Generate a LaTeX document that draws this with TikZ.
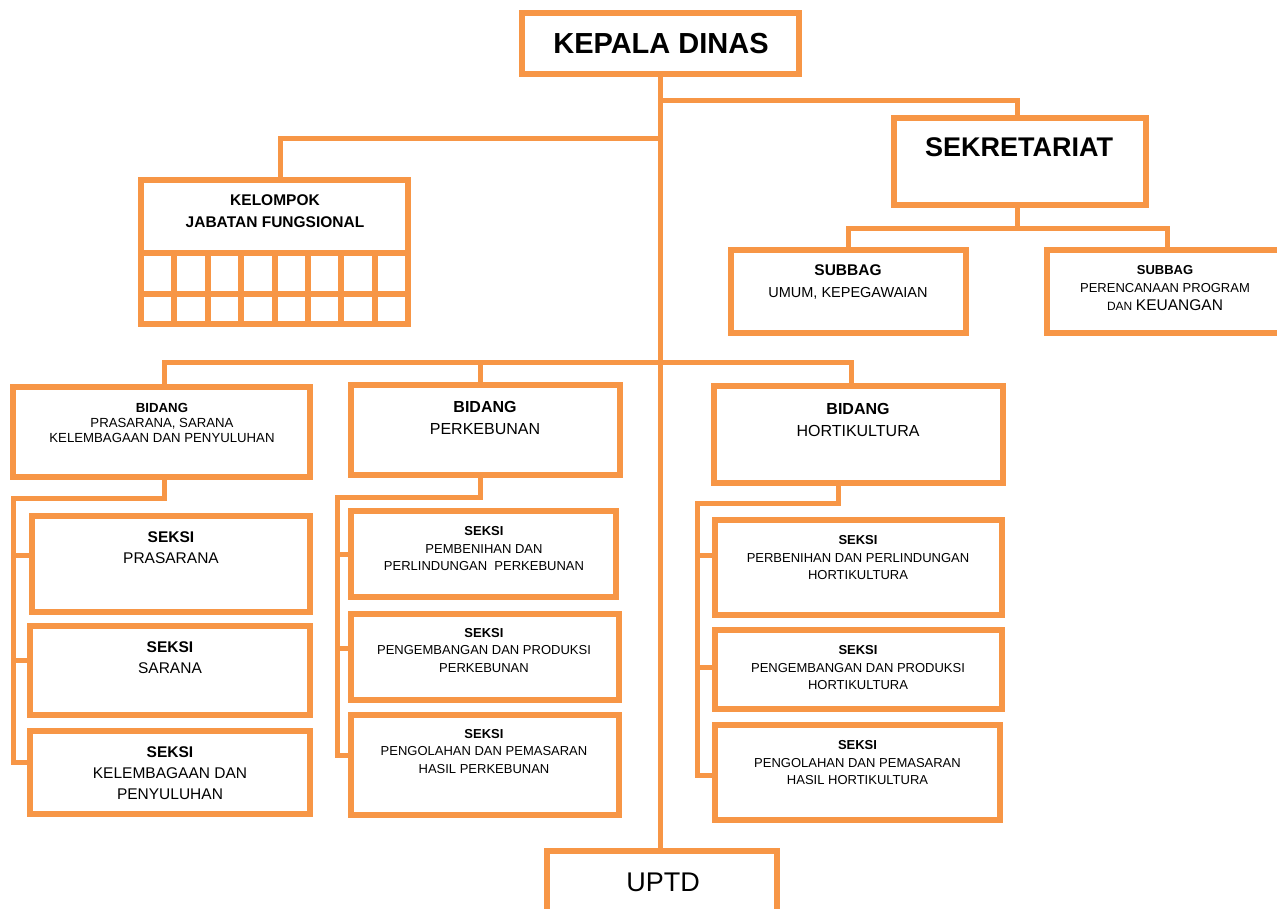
\documentclass[tikz,border=0pt]{standalone}
\usepackage{fontspec}
\setmainfont{Liberation Sans}
\usetikzlibrary{fit}
\definecolor{org}{HTML}{F79646}
\begin{document}
\begin{tikzpicture}[x=1pt,y=-1pt,
  box/.style={draw=org,line width=6pt,inner sep=0pt},
  conn/.style={draw=org,line width=5pt},
  gridline/.style={draw=org,line width=6pt},
  txt/.style={align=center,inner sep=0pt,text=black},
  big/.style={font=\fontsize{16}{22}\selectfont},
  mid/.style={font=\fontsize{15.5}{21}\selectfont},
  small/.style={font=\fontsize{13}{17.5}\selectfont}]
\useasboundingbox (0,0) rectangle (1277,908);
% boxes
\node[box,fit={(522,13) (799,74)}] (kd) {};
\node[box,fit={(894,118) (1146,205)}] (sek) {};
\node[box,fit={(731,250) (966,333)}] (sub1) {};
\node[box,fit={(1047,250) (1281,333)}] (sub2) {};
\node[box,fit={(141,180) (408,324)}] (kjf) {};
\node[box,fit={(13,387) (310,477)}] (b1) {};
\node[box,fit={(351,385) (620,475)}] (b2) {};
\node[box,fit={(714,386) (1003,483)}] (b3) {};
\node[box,fit={(32,516) (310,612)}] (s11) {};
\node[box,fit={(30,626) (310,715)}] (s12) {};
\node[box,fit={(30,731) (310,814)}] (s13) {};
\node[box,fit={(351,511) (616,597)}] (s21) {};
\node[box,fit={(351,614) (619,700)}] (s22) {};
\node[box,fit={(351,715) (619,815)}] (s23) {};
\node[box,fit={(715,520) (1002,615)}] (s31) {};
\node[box,fit={(715,630) (1002,709)}] (s32) {};
\node[box,fit={(715,725) (1000,820)}] (s33) {};
\node[box,fit={(547,851) (777,914)}] (uptd) {};
% grid of kelompok
\foreach \y in {253,294} \draw[gridline] (141,\y) -- (408,\y);
\foreach \i in {1,...,7} \draw[gridline] ({141+\i*33.375},253) -- ({141+\i*33.375},324);
% helper coordinates
\coordinate (j1) at (661,100);
\coordinate (j2) at (661,138);
\coordinate (bus) at (661,362);
\coordinate (j3) at (1017,228);
\coordinate (c1) at (13,498);
\coordinate (c2) at (337,497);
\coordinate (c3) at (697,503);
\path ([xshift=-3]sek.north) coordinate (sekn)
      ([xshift=-3]sek.south) coordinate (seks)
      ([xshift=3.5]sub2.north) coordinate (sub2n)
      ([xshift=5.5]kjf.north) coordinate (kjfn)
      ([xshift=3]b1.north) coordinate (b1n)
      ([xshift=-5.5]b2.north) coordinate (b2n)
      ([xshift=-7.5]b3.north) coordinate (b3n)
      ([xshift=3]b1.south) coordinate (b1s)
      ([xshift=-5.5]b2.south) coordinate (b2s)
      ([xshift=-20]b3.south) coordinate (b3s)
      ([yshift=9]s11.west) coordinate (t11)
      ([yshift=10]s12.west) coordinate (t12)
      ([yshift=10]s13.west) coordinate (t13)
      (s21.west) coordinate (t21)
      ([yshift=9]s22.west) coordinate (t22)
      ([yshift=10]s23.west) coordinate (t23)
      ([yshift=12]s31.west) coordinate (t31)
      ([yshift=2]s32.west) coordinate (t32)
      ([yshift=-3]s33.west) coordinate (t33);
% connectors
\draw[conn] (kd.south) -- (kd.south |- uptd.north);
\draw[conn] (j1) -| (sekn);
\draw[conn] (j2) -| (kjfn);
\draw[conn] (seks) -- (seks |- j3);
\draw[conn] (sub1.north) |- (j3) -| (sub2n);
\draw[conn] (b1n) |- (bus) -| (b3n);
\draw[conn] (b2n) -- (b2n |- bus);
\draw[conn] (b1s) |- (c1) |- (t13);
\draw[conn] (c1 |- t11) -- (t11);
\draw[conn] (c1 |- t12) -- (t12);
\draw[conn] (b2s) |- (c2) |- (t23);
\draw[conn] (c2 |- t21) -- (t21);
\draw[conn] (c2 |- t22) -- (t22);
\draw[conn] (b3s) |- (c3) |- (t33);
\draw[conn] (c3 |- t31) -- (t31);
\draw[conn] (c3 |- t32) -- (t32);
% texts
\node[txt,font=\bfseries\fontsize{29}{33}\selectfont] (tkd) at (661,44) {KEPALA DINAS};
\node[txt,font=\bfseries\fontsize{27}{30}\selectfont] (tsek) at (1019,147) {SEKRETARIAT};
\node[txt,font=\bfseries\fontsize{15.5}{22}\selectfont] (tkjf) at (275,211) {KELOMPOK\\JABATAN FUNGSIONAL};
\node[txt,font=\fontsize{14.5}{21.5}\selectfont] (tsub1) at (848,282) {{\bfseries\fontsize{15.5}{21.5}\selectfont SUBBAG}\\UMUM, KEPEGAWAIAN};
\node[txt,font=\fontsize{13}{18}\selectfont] (tsub2) at (1165,288) {{\bfseries SUBBAG}\\PERENCANAAN PROGRAM\\{\fontsize{12}{18}\selectfont DAN} {\fontsize{15.5}{18}\selectfont KEUANGAN}};
\node[txt,font=\fontsize{13.2}{15}\selectfont] (tb1) at (162,423) {{\bfseries BIDANG}\\PRASARANA, SARANA\\KELEMBAGAAN DAN PENYULUHAN};
\node[txt,big] (tb2) at (485,418) {{\bfseries BIDANG}\\PERKEBUNAN};
\node[txt,big] (tb3) at (858,420) {{\bfseries BIDANG}\\HORTIKULTURA};
\node[txt,mid] (ts11) at (171,548) {{\bfseries SEKSI}\\PRASARANA};
\node[txt,mid] (ts12) at (170,658) {{\bfseries SEKSI}\\SARANA};
\node[txt,mid] (ts13) at (170,773) {{\bfseries SEKSI}\\KELEMBAGAAN DAN\\PENYULUHAN};
\node[txt,small] (ts21) at (484,549) {{\bfseries SEKSI}\\PEMBENIHAN DAN\\PERLINDUNGAN\ \ PERKEBUNAN};
\node[txt,small] (ts22) at (484,650.5) {{\bfseries SEKSI}\\PENGEMBANGAN DAN PRODUKSI\\PERKEBUNAN};
\node[txt,small] (ts23) at (484,751.5) {{\bfseries SEKSI}\\PENGOLAHAN DAN PEMASARAN\\HASIL PERKEBUNAN};
\node[txt,small] (ts31) at (858,558) {{\bfseries SEKSI}\\PERBENIHAN DAN PERLINDUNGAN\\HORTIKULTURA};
\node[txt,small] (ts32) at (858,668) {{\bfseries SEKSI}\\PENGEMBANGAN DAN PRODUKSI\\HORTIKULTURA};
\node[txt,small] (ts33) at (857.5,763) {{\bfseries SEKSI}\\PENGOLAHAN DAN PEMASARAN\\HASIL HORTIKULTURA};
\node[txt,font=\fontsize{27}{30}\selectfont] (tuptd) at (663,882) {UPTD};
\end{tikzpicture}
\end{document}
